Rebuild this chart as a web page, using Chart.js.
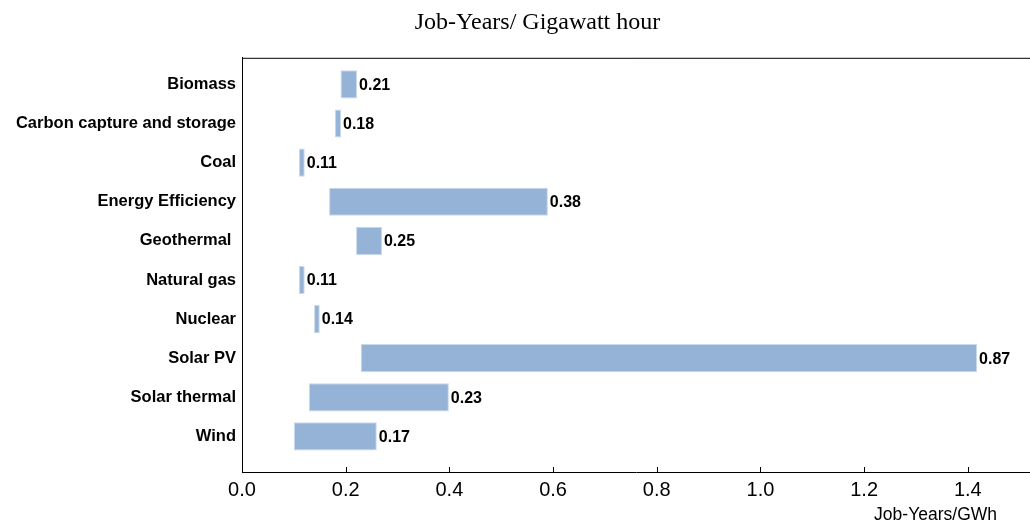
<!DOCTYPE html>
<html>
<head>
<meta charset="utf-8">
<script src="https://cdn.jsdelivr.net/npm/chart.js@4.4.1/dist/chart.umd.min.js"></script>
<style>
  html, body { margin: 0; padding: 0; background: #fff; overflow: hidden; }
  #wrap { width: 1075px; height: 522px; }
</style>
</head>
<body>
<div id="wrap"><canvas id="jobsChart"></canvas></div>
<script>
// Job-years per GWh, range bars (low..high) with the average written at the end
const categories = ["Biomass", "Carbon capture and storage", "Coal", "Energy Efficiency", "Geothermal ",
  "Natural gas", "Nuclear", "Solar PV", "Solar thermal", "Wind"];
const lowValues = [0.19, 0.179, 0.11, 0.168, 0.22, 0.11, 0.139, 0.229, 0.129, 0.10];
const highValues = [0.222, 0.191, 0.121, 0.59, 0.27, 0.121, 0.15, 1.418, 0.399, 0.26];
const avgLabels = ["0.21", "0.18", "0.11", "0.38", "0.25", "0.11", "0.14", "0.87", "0.23", "0.17"];
const xTicks = [0, 0.2, 0.4, 0.6, 0.8, 1.0, 1.2, 1.4];
const xTitle = "Job-Years/GWh";

const SANS = "'Liberation Sans', Arial, sans-serif";
const BAR_COLOR = "#95b3d7";

const rows = categories.map((c, i) => ({ x: [lowValues[i], highValues[i]], y: i }));

// frame (top line) + inward x ticks + value labels + x axis title
const decorations = {
  id: "decorations",
  afterDraw(chart) {
    const { ctx, chartArea: a, scales } = chart;
    ctx.save();
    ctx.strokeStyle = "#000";
    ctx.lineWidth = 1;
    ctx.beginPath();
    ctx.moveTo(a.left, a.top + 0.5);
    ctx.lineTo(a.right, a.top + 0.5);
    for (const t of scales.x.ticks) {
      const px = Math.round(scales.x.getPixelForValue(t.value)) + 0.5;
      ctx.moveTo(px, a.bottom);
      ctx.lineTo(px, a.bottom - 5);
    }
    ctx.stroke();

    ctx.fillStyle = "#000";
    ctx.font = "bold 16px " + SANS;
    ctx.textAlign = "left";
    ctx.textBaseline = "middle";
    chart.getDatasetMeta(0).data.forEach((bar, i) => {
      ctx.fillText(avgLabels[i], bar.x + 2, bar.y + 1);
    });

    ctx.font = "17.5px " + SANS;
    ctx.textAlign = "right";
    ctx.textBaseline = "alphabetic";
    ctx.fillText(xTitle, a.right - 33, scales.x.bottom - 2);
    ctx.restore();
  }
};

new Chart(document.getElementById("jobsChart"), {
  type: "bar",
  data: {
    datasets: [{
      data: rows,
      backgroundColor: BAR_COLOR,
      borderColor: "#c9d8ea",
      borderWidth: 1,
      borderSkipped: false,
      barPercentage: 0.9,
      categoryPercentage: 0.8,
    }]
  },
  options: {
    indexAxis: "y",
    responsive: true,
    maintainAspectRatio: false,
    animation: false,
    layout: { padding: 0 },
    plugins: {
      legend: { display: false },
      tooltip: { enabled: false },
      title: {
        display: true,
        text: "Job-Years/ Gigawatt hour",
        color: "#000",
        font: { family: "'Liberation Serif', 'Times New Roman', serif", size: 24, weight: "normal", lineHeight: 1.2 },
        padding: { top: 8, bottom: 21 },
      },
    },
    scales: {
      x: {
        type: "linear",
        offset: false,
        min: 0,
        max: 1.52,
        afterBuildTicks: s => { s.ticks = xTicks.map(v => ({ value: v })); },
        afterFit: s => { s.height = 50; },
        grid: { display: false, drawTicks: false, offset: false },
        border: { display: true, color: "#000", width: 1 },
        ticks: {
          color: "#000",
          padding: 6,
          font: { family: SANS, size: 20 },
          callback: v => v.toFixed(1),
        },
      },
      y: {
        type: "linear",
        offset: false,
        reverse: true,
        min: -0.68,
        max: 9.91,
        afterBuildTicks: s => { s.ticks = categories.map((c, i) => ({ value: i })); },
        afterFit: s => { s.width = 242; },
        grid: { display: false, drawTicks: false, offset: false },
        border: { display: true, color: "#000", width: 1 },
        ticks: {
          color: "#000",
          padding: 6,
          autoSkip: false,
          font: { family: SANS, size: 16.5, weight: "bold" },
          callback: v => categories[v],
        },
      },
      // empty right-hand box: the figure continues past the window's edge
      yRight: {
        type: "linear",
        position: "right",
        afterFit: s => { s.width = 45; },
        grid: { display: false, drawTicks: false },
        border: { display: false },
        ticks: { display: false },
      },
    },
  },
  plugins: [decorations],
});
</script>
</body>
</html>
